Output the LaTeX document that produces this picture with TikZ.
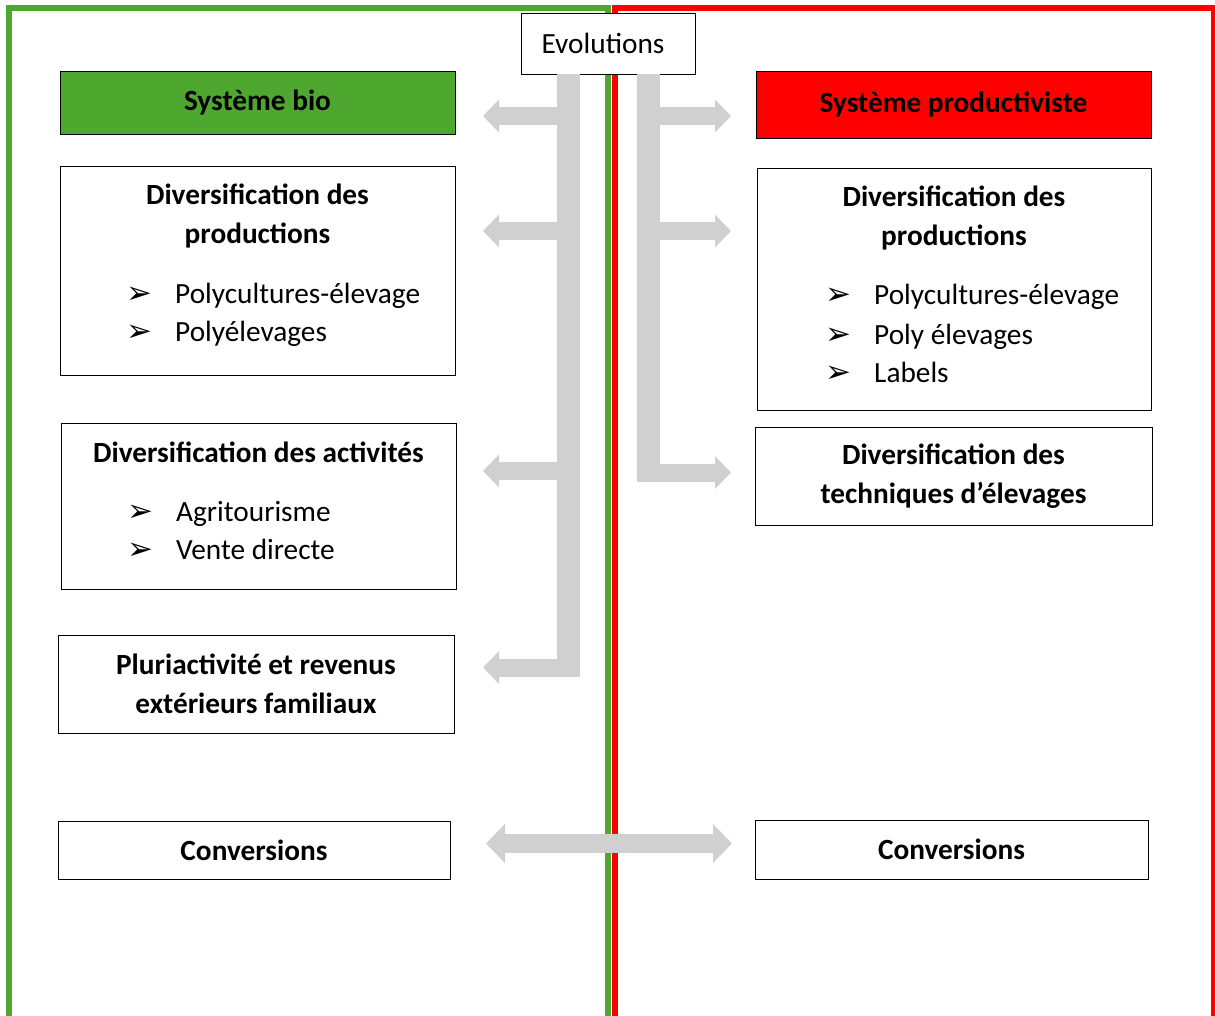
\documentclass[tikz,border=0pt]{standalone}
\usepackage{fontspec}
\setmainfont{Carlito}
\newfontfamily\dingfont{DejaVu Sans}
\usetikzlibrary{arrows.meta}

\definecolor{vertbio}{RGB}{78,167,46}
\definecolor{rougeprod}{RGB}{255,0,0}
\definecolor{grisfleche}{RGB}{208,208,208}

\newcommand{\taille}{\fontsize{29.3}{39}\selectfont}
\newcommand{\puce}{\makebox[46pt][l]{\hspace*{-3pt}\dingfont\fontsize{31}{31}\selectfont ➢}}

\tikzset{
  boite/.style={draw, fill=white, line width=0.9pt, inner sep=0pt, align=center, font=\taille\bfseries},
  titre/.style={align=center, inner sep=0pt, font=\taille\bfseries},
  item/.style={anchor=base west, inner sep=0pt, font=\taille},
  tronc/.style={grisfleche, line width=23pt},
  fleche/.style={grisfleche, line width=18pt, -{Triangle[width=32pt,length=16pt]}},
}

\begin{document}
\begin{tikzpicture}[x=1pt, y=-1pt]
  \useasboundingbox (0,0) rectangle (1215,1016);
  % cadres
  \draw[vertbio, line width=6pt] (9,1020) -- (9,8) -- (608,8) -- (608,1020);
  \draw[rougeprod, line width=6pt] (615,1020) -- (615,8) -- (1214,8) -- (1214,1020);

  \node[boite, font=\taille, minimum width=174pt, minimum height=61pt] (evo) at (608,43.5) {Evolutions\hspace*{10pt}};

  % systeme bio
  \node[boite, fill=vertbio, minimum width=395pt, minimum height=63pt] (bio) at (257.5,102.5) {Système bio};
  \node[boite, minimum width=395pt, minimum height=209pt] (prodG) at (257.5,270.5) {};
  \node[titre] (prodGt) at (257.5,216) {Diversification des\\productions};
  \node[item] (prodG1) at (129,303) {\puce Polycultures-élevage};
  \node[item] (prodG2) at (129,341) {\puce Polyélevages};
  \node[boite, minimum width=395pt, minimum height=166pt] (activ) at (258.5,506) {};
  \node[titre] (activt) at (258.5,452) {Diversification des activités};
  \node[item] (activ1) at (130,521) {\puce Agritourisme};
  \node[item] (activ2) at (130,559) {\puce Vente directe};
  \node[boite, minimum width=396pt, minimum height=98pt] (pluri) at (256,684) {Pluriactivité et revenus\\extérieurs familiaux};
  \node[boite, minimum width=392pt, minimum height=58pt] (convG) at (254,850) {Conversions};

  % systeme productiviste
  \node[boite, fill=rougeprod, minimum width=395pt, minimum height=67pt] (prod) at (953.5,104.5) {Système productiviste};
  \node[boite, minimum width=394pt, minimum height=242pt] (prodD) at (954,289) {};
  \node[titre] (prodDt) at (954,218) {Diversification des\\productions};
  \node[item] (prodD1) at (828,305) {\puce Polycultures-élevage};
  \node[item] (prodD2) at (828,344) {\puce Poly élevages};
  \node[item] (prodD3) at (828,382) {\puce Labels};
  \node[boite, minimum width=397pt, minimum height=98pt] (tech) at (953.5,476) {Diversification des\\techniques d’élevages};
  \node[boite, minimum width=393pt, minimum height=59pt] (convD) at (951.5,849.5) {Conversions};

  % fleches grises
  \coordinate (tg) at (568.5,677);
  \coordinate (td) at (648.5,482);
  \draw[tronc] (evo.south -| tg) -- (tg);
  \draw[tronc] (evo.south -| td) -- (td);
  \foreach \y in {116,231,471,667.5}
    \draw[fleche] (568.5,\y) -- (483,\y);
  \foreach \y in {116,231,472.5}
    \draw[fleche] (648.5,\y) -- (731,\y);
  \draw[fleche, line width=19pt, {Triangle[width=38pt,length=19pt]}-{Triangle[width=38pt,length=19pt]}] (486,843.5) -- (732,843.5);
\end{tikzpicture}
\end{document}
